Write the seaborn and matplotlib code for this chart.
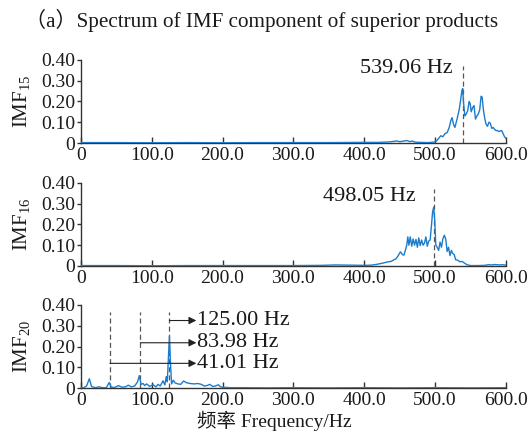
import matplotlib
matplotlib.use("Agg")
import matplotlib.pyplot as plt
import seaborn as sns
import pandas as pd

# ---------------- data ----------------
freq_15 = [0, 50, 100, 150, 200, 250, 300, 350, 400,
           420, 435, 442, 446, 450, 455, 460, 464, 468, 472,
           480, 490, 498, 502, 505, 508, 511, 514, 517, 520,
           522, 524, 526, 528, 531, 534, 536, 538, 539, 540,
           542, 544, 546, 548, 549.5, 551, 553, 555, 557, 559,
           561, 563, 565, 566.5, 568, 570, 572, 574, 576, 578,
           580, 582, 584, 586, 588, 590, 592, 594, 596, 598,
           600]
amp_15 = [0.002, 0.002, 0.001, 0.002, 0.001, 0.002, 0.002, 0.002, 0.003,
          0.003, 0.005, 0.008, 0.010, 0.006, 0.009, 0.012, 0.007, 0.009, 0.004,
          0.003, 0.002, 0.004, 0.010, 0.022, 0.035, 0.030, 0.045, 0.050, 0.075,
          0.105, 0.122, 0.090, 0.075, 0.115, 0.160, 0.205, 0.255, 0.262, 0.200,
          0.130, 0.140, 0.155, 0.200, 0.190, 0.150, 0.170, 0.180, 0.115, 0.130,
          0.140, 0.160, 0.225, 0.220, 0.165, 0.120, 0.090, 0.080, 0.100, 0.095,
          0.070, 0.075, 0.065, 0.060, 0.060, 0.055, 0.058, 0.060, 0.045, 0.030,
          0.022]

freq_16 = [0, 50, 100, 150, 200, 250, 300,
           340, 360, 380, 400,
           410, 418, 425, 430, 434, 438, 442, 445, 448, 451,
           454, 456, 458, 460, 461.5, 463, 465, 467, 469, 471,
           473, 475, 477, 479, 481, 483, 485, 487, 489, 491,
           493, 495, 496.5, 498, 499.5, 501, 503, 505, 507, 509,
           511, 513, 515, 517, 519, 521, 523, 525, 527, 529,
           532, 535, 538, 541, 545, 550, 560, 570, 575, 580,
           585, 590, 595, 600]
amp_16 = [0.002, 0.002, 0.001, 0.002, 0.002, 0.002, 0.002,
          0.003, 0.005, 0.004, 0.003,
          0.004, 0.008, 0.013, 0.017, 0.020, 0.022, 0.030, 0.035, 0.050, 0.068,
          0.055, 0.052, 0.075, 0.100, 0.140, 0.100, 0.140, 0.095, 0.130, 0.100,
          0.128, 0.090, 0.135, 0.098, 0.125, 0.100, 0.110, 0.140, 0.095, 0.120,
          0.125, 0.200, 0.260, 0.283, 0.220, 0.100, 0.090, 0.075, 0.115, 0.090,
          0.130, 0.148, 0.130, 0.070, 0.090, 0.050, 0.075, 0.060, 0.055, 0.030,
          0.028, 0.020, 0.022, 0.015, 0.006, 0.002, 0.002, 0.003, 0.006, 0.005,
          0.007, 0.005, 0.006, 0.004]

freq_20 = [0, 4, 8, 12, 15, 20, 26, 30, 36, 40,
           43, 48, 53, 58, 63, 67, 71, 76, 80, 82.5,
           85, 88, 90, 93, 97, 102, 106, 109, 112, 116,
           118.5, 120.5, 122, 123.5, 125, 126.5, 128, 130.5, 133, 137,
           141, 145, 149, 154, 160, 165, 170, 174, 178, 182,
           186, 190, 194, 197, 201, 210, 230, 260, 300, 350,
           400, 450, 500, 550, 600]
amp_20 = [0.002, 0.002, 0.010, 0.045, 0.008, 0.002, 0.006, 0.002, 0.002, 0.027,
          0.004, 0.003, 0.012, 0.004, 0.006, 0.014, 0.006, 0.010, 0.030, 0.060,
          0.018, 0.022, 0.012, 0.020, 0.008, 0.016, 0.006, 0.018, 0.010, 0.035,
          0.015, 0.055, 0.030, 0.140, 0.250, 0.120, 0.020, 0.038, 0.025, 0.020,
          0.018, 0.034, 0.026, 0.022, 0.020, 0.022, 0.018, 0.010, 0.012, 0.018,
          0.008, 0.010, 0.016, 0.006, 0.004, 0.002, 0.002, 0.001, 0.002, 0.001,
          0.002, 0.001, 0.002, 0.001, 0.002]

x_ticks = [0, 100, 200, 300, 400, 500, 600]
x_tick_labels = ["0", "100.0", "200.0", "300.0", "400.0", "500.0", "600.0"]
y_ticks = [0, 0.10, 0.20, 0.30, 0.40]
y_tick_labels = ["0", "0.10", "0.20", "0.30", "0.40"]

panel_labels = ["15", "16", "20"]
peak_15 = 539.06
peak_16 = 498.05
peaks_20 = [125.00, 83.98, 41.01]

title = "（a）Spectrum of IMF component of superior products"
x_label = "频率 Frequency/Hz"

# ---------------- style ----------------
sns.set_theme(style="ticks")
plt.rcParams["font.family"] = ["Liberation Serif", "Noto Sans CJK SC", "DejaVu Sans"]
plt.rcParams["mathtext.fontset"] = "custom"
plt.rcParams["mathtext.rm"] = "Liberation Serif"
plt.rcParams["mathtext.it"] = "Liberation Serif:italic"

BLUE = "#1c7ccc"
DASH = "#555555"
TXT = "#1a1a1a"

fig = plt.figure(figsize=(5.32, 4.40), dpi=100)
left, width = 0.152, 0.799
positions = [(left, 0.675, width, 0.189),
             (left, 0.3955, width, 0.189),
             (left, 0.118, width, 0.189)]
series = [(freq_15, amp_15), (freq_16, amp_16), (freq_20, amp_20)]

axes = []
for pos, (f, a), lab in zip(positions, series, panel_labels):
    ax = fig.add_axes(pos)
    df = pd.DataFrame({"freq": f, "amp": a})
    sns.lineplot(data=df, x="freq", y="amp", ax=ax, color=BLUE, lw=1.0,
                 estimator=None, zorder=3)
    ax.set_xlim(0, 600)
    ax.set_ylim(0, 0.40)
    ax.set_xticks(x_ticks)
    ax.set_xticklabels(x_tick_labels)
    ax.set_yticks(y_ticks)
    ax.set_yticklabels(y_tick_labels)
    for s in ["top", "right"]:
        ax.spines[s].set_visible(False)
    for s in ["left", "bottom"]:
        ax.spines[s].set_color("#333333")
        ax.spines[s].set_linewidth(1.0)
    ax.tick_params(axis="x", direction="in", length=4, width=1, pad=3,
                   labelsize=14, colors="#333333", labelcolor=TXT)
    ax.tick_params(axis="y", direction="out", length=3, width=1, pad=1,
                   labelsize=14, colors="#333333", labelcolor=TXT)
    ax.set_xlabel("")
    ax.set_ylabel("$\\mathrm{IMF}_{" + lab + "}$", fontsize=15, color=TXT)
    ax.yaxis.set_label_coords(-0.115, 0.5)
    axes.append(ax)

# panel 1 annotation
ax = axes[0]
ax.plot([peak_15, peak_15], [0, 0.37], ls=(0, (4, 2.5)), color=DASH, lw=0.9, zorder=2)
ax.text(525, 0.357, f"{peak_15:.2f} Hz", ha="right", va="center", fontsize=16, color=TXT)

# panel 2 annotation
ax = axes[1]
ax.plot([peak_16, peak_16], [0, 0.37], ls=(0, (4, 2.5)), color=DASH, lw=0.9, zorder=2)
ax.text(473, 0.334, f"{peak_16:.2f} Hz", ha="right", va="center", fontsize=16, color=TXT)

# panel 3 annotations
ax = axes[2]
arrow_y = [0.325, 0.218, 0.119]
for p, yy in zip(peaks_20, arrow_y):
    ax.plot([p, p], [0, 0.365], ls=(0, (4, 2.5)), color=DASH, lw=0.9, zorder=2)
    ax.annotate("", xy=(163, yy), xytext=(p, yy),
                arrowprops=dict(arrowstyle="-|>", lw=0.8, color="#222222",
                                mutation_scale=11, shrinkA=0, shrinkB=0))
    ax.text(164, yy, f"{p:.2f} Hz", ha="left", va="center", fontsize=16, color=TXT)

fig.text(274 / 532, 1 - 421 / 440, x_label, ha="center", va="center",
         fontsize=14, color=TXT)
fig.text(262 / 532, 1 - 20 / 440, title, ha="center", va="center",
         fontsize=15.2, color=TXT)

fig.savefig("out.png", dpi=100)
